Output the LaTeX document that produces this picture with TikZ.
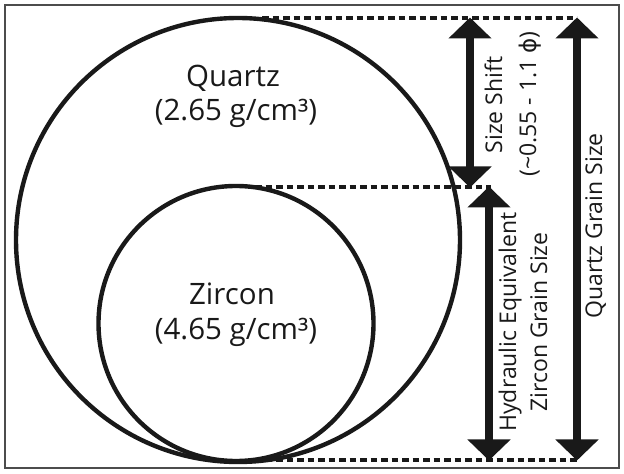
\documentclass[tikz,border=0pt]{standalone}
\usepackage{fontspec}
\setmainfont{Open Sans}
\newfontfamily\symfont{DejaVu Sans}
\usetikzlibrary{arrows.meta}

\tikzset{
  frame/.style={draw=black!70, line width=1.8pt},
  grain/.style={draw=black!90, line width=4.4pt},
  level/.style={draw=black!90, line width=3.2pt, dash pattern=on 6.5pt off 4pt},
  span/.style={draw=black!90, fill=black!90, line width=7.5pt,
    {Triangle[width=42pt,length=21pt]}-{Triangle[width=42pt,length=21pt]}, shorten <=-0.5pt, shorten >=-0.5pt},
  mineral/.style={font=\fontsize{29.5}{34}\selectfont, inner sep=0pt, anchor=base, text=black!90},
  sidelabel/.style={font=\fontsize{23}{27}\selectfont, inner sep=0pt, anchor=base, rotate=90, text=black!90},
}

\begin{document}
\begin{tikzpicture}[x=1pt,y=1pt]
  % canvas: pixel grid with origin at the lower left
  \useasboundingbox (0,0) rectangle (624,474);
  \draw[frame] (5,6) rectangle (619,469);

  % grains
  \draw[grain] (238,234) circle (222);
  \draw[grain] (236,150.5) circle (137.5);

  % reference levels
  \coordinate (qtop)  at (262,456);
  \coordinate (ztop)  at (255,287);
  \coordinate (bot)   at (255,14);
  \coordinate (qtopR) at (577,456);
  \coordinate (ztopR) at (491,287);
  \coordinate (botR)  at (577,14);
  \draw[level] (qtop) -- (qtopR);
  \draw[level] (ztop) -- (ztopR);
  \draw[level] (bot) -- (botR);

  % dimension arrows
  \coordinate (s1) at (470,456);
  \coordinate (s2) at (470,287);
  \coordinate (h1) at (489,287);
  \coordinate (h2) at (489,14);
  \draw[span] (s1) -- (s2);
  \draw[span] (h1) -- (h2);
  \draw[span] (qtopR) -- (botR);

  % mineral labels
  \node[mineral] (qname) at (233,387) {Quartz};
  \node[mineral] (qrho)  at (236,353) {(2.65 g/cm³)};
  \node[mineral] (zname) at (232,169) {Zircon};
  \node[mineral] (zrho)  at (236,134) {(4.65 g/cm³)};

  % arrow labels
  \node[sidelabel] (shift) at (502,369) {Size Shift};
  \node[sidelabel] (phi)   at (536,370) {(\textasciitilde0.55 - 1.1 {\symfont ϕ})};
  \node[sidelabel] (hyd)   at (516,152) {Hydraulic Equivalent};
  \node[sidelabel] (zgs)   at (547,152) {Zircon Grain Size};
  \node[sidelabel] (qgs)   at (602,248) {Quartz Grain Size};
\end{tikzpicture}
\end{document}
